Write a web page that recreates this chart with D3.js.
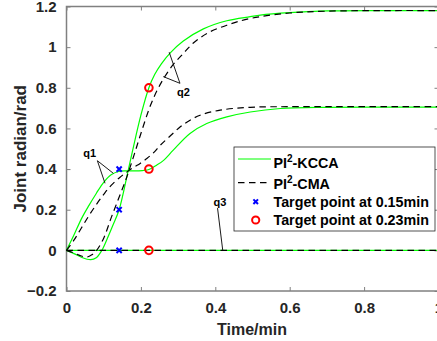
<!DOCTYPE html>
<meta charset="utf-8">
<script src="https://d3js.org/d3.v7.min.js"></script>
<style>
  body { margin: 0; background: #fff; }
  text { font-family: "Liberation Sans", Arial, sans-serif; font-weight: bold; }
</style>
<div id="chart"></div>
<script>
// tick values
const xTicks = [0, 0.2, 0.4, 0.6, 0.8, 1];
const yTicks = [-0.2, 0, 0.2, 0.4, 0.6, 0.8, 1, 1.2];

// [time (min), joint angle (rad)]
const q1Kcca = [[0,0],[0.02,0.075],[0.04,0.155],[0.06,0.22],[0.08,0.28],[0.1,0.335],[0.12,0.372],[0.14,0.388],[0.16,0.391],[0.19,0.391],[0.2215,0.398],[0.243,0.42],[0.261,0.443],[0.287,0.493],[0.332,0.575],[0.377,0.624],[0.431,0.657],[0.494,0.681],[0.575,0.698],[0.7,0.704],[0.85,0.705],[1,0.705]];
const q1Cma = [[0,0],[0.02,0.05],[0.04,0.11],[0.06,0.17],[0.08,0.225],[0.1,0.275],[0.12,0.32],[0.144,0.36],[0.162,0.385],[0.18,0.408],[0.198,0.428],[0.216,0.452],[0.235,0.482],[0.252,0.517],[0.28,0.565],[0.306,0.608],[0.33,0.638],[0.359,0.665],[0.413,0.69],[0.494,0.704],[0.6,0.707],[1,0.707]];
const q2Kcca = [[0,0],[0.02,-0.016],[0.04,-0.034],[0.065,-0.046],[0.08,-0.036],[0.095,0],[0.11,0.06],[0.125,0.125],[0.1415,0.2],[0.165,0.386],[0.178,0.493],[0.2,0.665],[0.2215,0.8],[0.237,0.865],[0.255,0.918],[0.279,0.972],[0.314,1.03],[0.368,1.09],[0.431,1.13],[0.494,1.15],[0.521,1.158],[0.6,1.17],[0.7,1.178],[0.85,1.18],[1,1.18]];
const q2Cma = [[0,0],[0.02,-0.013],[0.04,-0.028],[0.055,-0.033],[0.068,-0.022],[0.081,0],[0.1,0.06],[0.12,0.16],[0.14,0.255],[0.16,0.35],[0.18,0.46],[0.2,0.575],[0.225,0.71],[0.243,0.785],[0.261,0.845],[0.285,0.91],[0.314,0.969],[0.341,1.02],[0.38,1.07],[0.431,1.108],[0.494,1.141],[0.6,1.168],[0.7,1.177],[0.85,1.18],[1,1.18]];
const q3Kcca = [[0,0],[1,0]];
const q3Cma = [[0,0],[1,0]];

// target points
const blueTime = 0.1415, blueVals = [0.4, 0.2, 0];
const redTime = 0.2215, redVals = [0.8, 0.4, 0];

// annotation callouts: label anchor, apex, end points (data units)
const callouts = [
  { name: "q1", label: [0.045, 0.458], apex: [0.083, 0.441], ends: [[0.126, 0.379], [0.1035, 0.33]] },
  { name: "q2", label: [0.297, 0.76], apex: [0.305, 0.822], ends: [[0.276, 0.975], [0.26, 0.855]] },
  { name: "q3", label: [0.395, 0.218], apex: [0.406, 0.208], ends: [[0.42, 0]] }
];

const W = 437, H = 341;
const mLeft = 66.5, mRight = 438.5, mTop = 6.5, mBottom = 291;

const svg = d3.select("#chart").append("svg")
  .attr("width", W).attr("height", H);

const x = d3.scaleLinear().domain([0, 1]).range([mLeft, mRight]);
const y = d3.scaleLinear().domain([-0.2, 1.2]).range([mBottom, mTop]);

const axisColor = "#808080", labelColor = "#262626";

// axes box
svg.append("rect")
  .attr("x", mLeft).attr("y", mTop)
  .attr("width", mRight - mLeft).attr("height", mBottom - mTop)
  .attr("fill", "none").attr("stroke", axisColor).attr("stroke-width", 1.5);

const xAxis = svg.append("g").attr("transform", `translate(0,${mBottom})`)
  .call(d3.axisBottom(x).tickValues(xTicks).tickSize(-4).tickPadding(14).tickFormat(d3.format("~g")));
const xTop = svg.append("g").attr("transform", `translate(0,${mTop})`)
  .call(d3.axisTop(x).tickValues(xTicks).tickSize(-4).tickFormat(""));
const yAxis = svg.append("g").attr("transform", `translate(${mLeft},0)`)
  .call(d3.axisLeft(y).tickValues(yTicks).tickSize(-4).tickPadding(10).tickFormat(d3.format("~g")));
const yRight = svg.append("g").attr("transform", `translate(${mRight},0)`)
  .call(d3.axisRight(y).tickValues(yTicks).tickSize(-4).tickFormat(""));

[xAxis, xTop, yAxis, yRight].forEach(g => {
  g.select(".domain").remove();
  g.selectAll(".tick line").attr("stroke", axisColor).attr("stroke-width", 1);
  g.selectAll(".tick text").attr("fill", labelColor).style("font-size", "15px")
    .style("font-family", "'Liberation Sans', Arial, sans-serif").style("font-weight", "bold");
});
xAxis.selectAll(".tick text").attr("dy", "0.55em");

// axis labels
svg.append("text")
  .attr("x", (mLeft + mRight) / 2 - 0.5).attr("y", 335)
  .attr("text-anchor", "middle").attr("fill", labelColor)
  .style("font-size", "16px").text("Time/min");
svg.append("text")
  .attr("transform", `translate(26,${(mTop + mBottom) / 2}) rotate(-90)`)
  .attr("text-anchor", "middle").attr("fill", labelColor)
  .style("font-size", "17px").text("Joint radian/rad");

// curves
const line = d3.line().x(d => x(d[0])).y(d => y(d[1])).curve(d3.curveCatmullRom.alpha(0.5));
const plot = svg.append("g");

[q1Kcca, q2Kcca, q3Kcca].forEach(s => {
  plot.append("path").datum(s).attr("d", line)
    .attr("fill", "none").attr("stroke", "#00ff00").attr("stroke-width", 1.2);
});
[q1Cma, q2Cma, q3Cma].forEach(s => {
  plot.append("path").datum(s).attr("d", line)
    .attr("fill", "none").attr("stroke", "#000").attr("stroke-width", 1.2)
    .attr("stroke-dasharray", "6.5,4.5");
});

// target markers
function cross(g, cx, cy, r) {
  g.append("path")
    .attr("d", `M${cx - r},${cy - r}L${cx + r},${cy + r}M${cx - r},${cy + r}L${cx + r},${cy - r}`)
    .attr("stroke", "#0000ff").attr("stroke-width", 2);
}
blueVals.forEach(v => cross(plot, x(blueTime), y(v), 2.6));
redVals.forEach(v => {
  plot.append("circle").attr("cx", x(redTime)).attr("cy", y(v)).attr("r", 3.8)
    .attr("fill", "none").attr("stroke", "#ff0000").attr("stroke-width", 2);
});

// callouts
callouts.forEach(c => {
  c.ends.forEach(e => {
    plot.append("line")
      .attr("x1", x(c.apex[0])).attr("y1", y(c.apex[1]))
      .attr("x2", x(e[0])).attr("y2", y(e[1]))
      .attr("stroke", "#000").attr("stroke-width", 0.9);
  });
  plot.append("text").attr("x", x(c.label[0])).attr("y", y(c.label[1]))
    .attr("fill", "#000").style("font-size", "11px").text(c.name);
});

// legend
const lg = svg.append("g");
lg.append("rect").attr("x", 234).attr("y", 147).attr("width", 201).attr("height", 84)
  .attr("fill", "#fff").attr("stroke", "#262626").attr("stroke-width", 0.8);

const rows = [
  { y: 159, base: 168.3, kind: "kcca", main: "PI", sup: "2", rest: "-KCCA" },
  { y: 182.7, base: 189.3, kind: "cma", main: "PI", sup: "2", rest: "-CMA" },
  { y: 201.7, base: 206.5, kind: "blue", main: "Target point at 0.15min" },
  { y: 220, base: 224.8, kind: "red", main: "Target point at 0.23min" }
];
rows.forEach(r => {
  if (r.kind === "kcca") {
    lg.append("line").attr("x1", 238).attr("x2", 271).attr("y1", r.y).attr("y2", r.y)
      .attr("stroke", "#00ff00").attr("stroke-width", 1.2);
  } else if (r.kind === "cma") {
    lg.append("line").attr("x1", 238).attr("x2", 271).attr("y1", r.y).attr("y2", r.y)
      .attr("stroke", "#000").attr("stroke-width", 1.2).attr("stroke-dasharray", "6.5,4.5");
  } else if (r.kind === "blue") {
    cross(lg, 255.7, r.y, 2.3);
  } else {
    lg.append("circle").attr("cx", 255.7).attr("cy", r.y).attr("r", 3.6)
      .attr("fill", "none").attr("stroke", "#ff0000").attr("stroke-width", 2);
  }
  const t = lg.append("text").attr("x", 273.5).attr("y", r.base)
    .attr("fill", "#000").style("font-size", "14.3px");
  t.append("tspan").text(r.main);
  if (r.sup) {
    t.append("tspan").attr("dy", -6).style("font-size", "10px").text(r.sup);
    t.append("tspan").attr("dy", 6).text(r.rest);
  }
});
</script>
